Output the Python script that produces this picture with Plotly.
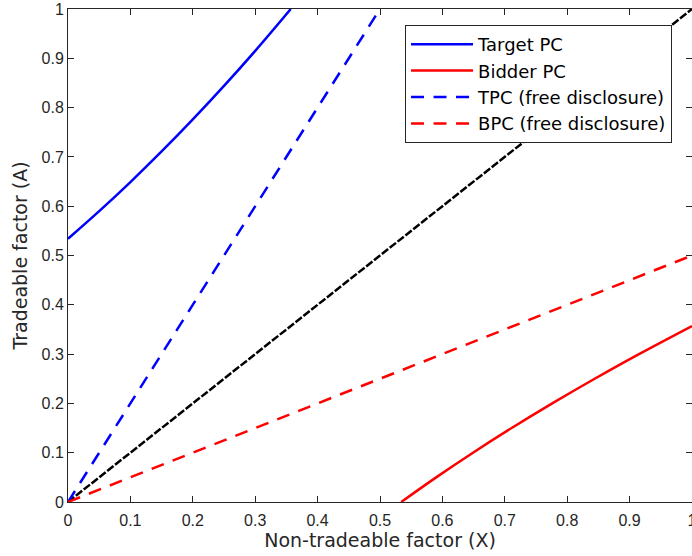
import plotly.graph_objects as go

# Target participation constraint (solid blue)
target_x = [0, 0.05, 0.1, 0.15, 0.2, 0.25, 0.3, 0.357]
target_a = [0.534, 0.590, 0.649, 0.711, 0.776, 0.844, 0.915, 1.0]

# Bidder participation constraint (solid red)
bidder_x = [0.534, 0.590, 0.649, 0.711, 0.776, 0.844, 0.915, 1.0]
bidder_a = [0, 0.05, 0.1, 0.15, 0.2, 0.25, 0.3, 0.357]

# Free disclosure constraints (dashed)
tpc_free_x = [0, 0.5]
tpc_free_a = [0, 1.0]
bpc_free_x = [0, 1.0]
bpc_free_a = [0, 0.5]

# Diagonal
diag_x = [0, 1]
diag_a = [0, 1]

tick_vals = [0, 0.1, 0.2, 0.3, 0.4, 0.5, 0.6, 0.7, 0.8, 0.9, 1]
tick_text = ["0", "0.1", "0.2", "0.3", "0.4", "0.5", "0.6", "0.7", "0.8", "0.9", "1"]

fig = go.Figure()
fig.add_trace(go.Scatter(x=diag_x, y=diag_a, mode="lines", showlegend=False,
                         line=dict(color="black", width=2.5, dash="8px,2px")))
fig.add_trace(go.Scatter(x=target_x, y=target_a, mode="lines", name="Target PC",
                         line=dict(color="#0000ff", width=2.5, shape="spline")))
fig.add_trace(go.Scatter(x=bidder_x, y=bidder_a, mode="lines", name="Bidder PC",
                         line=dict(color="#ff0000", width=2.5, shape="spline")))
fig.add_trace(go.Scatter(x=tpc_free_x, y=tpc_free_a, mode="lines", name="TPC (free disclosure)",
                         line=dict(color="#0000ff", width=2.5, dash="13px,9.5px")))
fig.add_trace(go.Scatter(x=bpc_free_x, y=bpc_free_a, mode="lines", name="BPC (free disclosure)",
                         line=dict(color="#ff0000", width=2.5, dash="13px,9.5px")))

axis_common = dict(
    range=[0, 1], tickvals=tick_vals, ticktext=tick_text,
    ticks="inside", ticklen=6, tickcolor="#262626", tickwidth=1,
    showline=True, linecolor="#262626", linewidth=1, mirror="allticks",
    showgrid=False, zeroline=False, automargin=False, ticklabeloverflow="allow",
    tickfont=dict(family="Liberation Sans", size=16, color="#262626"),
)

fig.update_layout(
    width=692, height=556,
    margin=dict(l=68, r=0, t=9, b=54),
    paper_bgcolor="white", plot_bgcolor="white",
    xaxis=dict(**axis_common, ticklabelstandoff=4,
               title=dict(text="Non-tradeable factor (X)", standoff=4,
                          font=dict(family="DejaVu Sans", size=19, color="#262626"))),
    yaxis=dict(**axis_common,
               title=dict(text="Tradeable factor (A)", standoff=8,
                          font=dict(family="DejaVu Sans", size=19, color="#262626"))),
    legend=dict(x=0.968, y=0.9675, xanchor="right", yanchor="top",
                bgcolor="white", bordercolor="#262626", borderwidth=1,
                font=dict(family="DejaVu Sans", size=18, color="black"),
                itemwidth=62, tracegroupgap=0),
    showlegend=True,
)

fig.write_html("out.html",
               config={"displayModeBar": False},
               post_script="document.body.style.margin='0';document.body.style.overflow='hidden';")
